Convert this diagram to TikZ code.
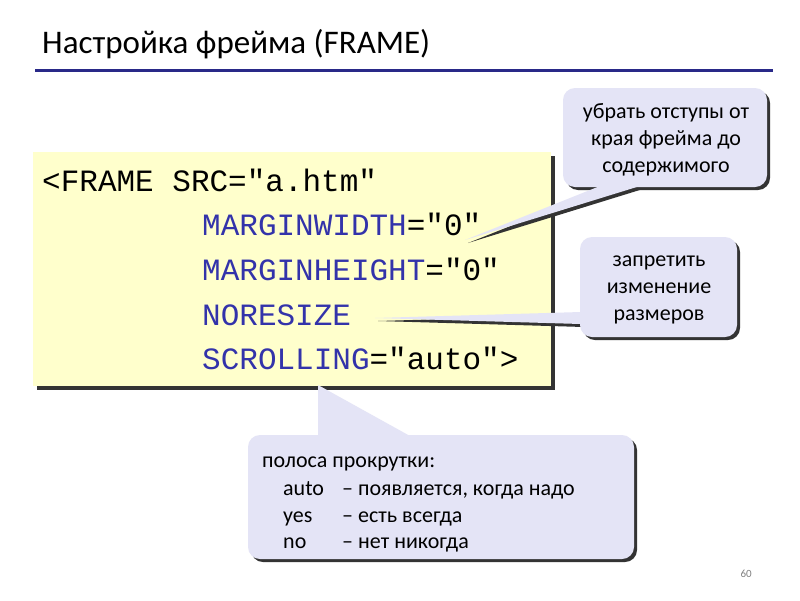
\documentclass[tikz,border=0pt]{standalone}
\usepackage{fontspec}
\setmainfont{Carlito}
\newfontfamily\codefont{Liberation Mono}
\begin{document}
\begin{tikzpicture}[x=1pt,y=-1pt,
  code/.style={font=\codefont\fontsize{31}{31}\selectfont, anchor=base west, inner sep=0},
  ctext/.style={font=\fontsize{22}{27}\selectfont, align=center, inner sep=0},
  ltext/.style={font=\fontsize{22}{22}\selectfont, anchor=base west, inner sep=0},
  sh/.style={fill=shad, shift={(3,3)}},
  bub/.style={fill=lav}]
\definecolor{attr}{HTML}{3333AA}
\definecolor{yel}{HTML}{FFFFCC}
\definecolor{lav}{HTML}{E4E4F6}
\definecolor{shad}{HTML}{333333}
\useasboundingbox (0,0) rectangle (800,600);
\fill[white] (0,0) rectangle (800,600);
\node[anchor=base west, inner sep=0, font=\fontsize{33}{33}\selectfont] (title) at (42,53) {Настройка фрейма (FRAME)};
\draw[line width=3pt, color=attr!80!black] (35,70) -- (773,70);
% yellow code box
\fill[shad] (37,156) rectangle (555,390);
\fill[yel] (33,152) rectangle (551,386);
\node[code] (l1) at (42,191) {<FRAME SRC="a.htm"};
\node[code] (l2) at (202,235) {\textcolor{attr}{MARGINWIDTH}="0"};
\node[code] (l3) at (202,280) {\textcolor{attr}{MARGINHEIGHT}="0"};
\node[code] (l4) at (202,325) {\textcolor{attr}{NORESIZE}};
\node[code] (l5) at (202,369) {\textcolor{attr}{SCROLLING}="auto">};
% callout 1
\fill[sh] (600,186) -- (465,240) -- (640,186) -- cycle;
\fill[sh, rounded corners=12pt] (563,88) rectangle (767,187);
\fill[bub] (600,186) -- (465,240) -- (640,186) -- cycle;
\fill[bub, rounded corners=12pt] (563,88) rectangle (767,187);
% callout 2
\fill[sh] (581,312) -- (375,318) -- (581,324) -- cycle;
\fill[sh, rounded corners=12pt] (580,237) rectangle (737,337);
\fill[bub] (581,312) -- (375,318) -- (581,324) -- cycle;
\fill[bub, rounded corners=12pt] (580,237) rectangle (737,337);
% callout 3
\fill[sh] (318,436) -- (318,385) -- (410,436) -- cycle;
\fill[sh, rounded corners=12pt] (248,435) rectangle (634,559);
\fill[bub] (318,436) -- (318,385) -- (410,436) -- cycle;
\fill[bub, rounded corners=12pt] (248,435) rectangle (634,559);
\node[ctext] (c1) at (666,140) {убрать отступы от\\края фрейма до\\содержимого};
\node[ctext] (c2) at (659,290) {запретить\\изменение\\размеров};
\node[ltext] (s0) at (262,467) {полоса прокрутки:};
\node[ltext] (s1) at (283,495) {auto};
\node[ltext] (s1b) at (342,495) {– появляется, когда надо};
\node[ltext] (s2) at (283,522) {yes};
\node[ltext] (s2b) at (342,522) {– есть всегда};
\node[ltext] (s3) at (283,548) {no};
\node[ltext] (s3b) at (342,548) {– нет никогда};
\node[anchor=base east, inner sep=0, font=\fontsize{11}{11}\selectfont, text=gray] (pg) at (752,577) {60};
\end{tikzpicture}
\end{document}
